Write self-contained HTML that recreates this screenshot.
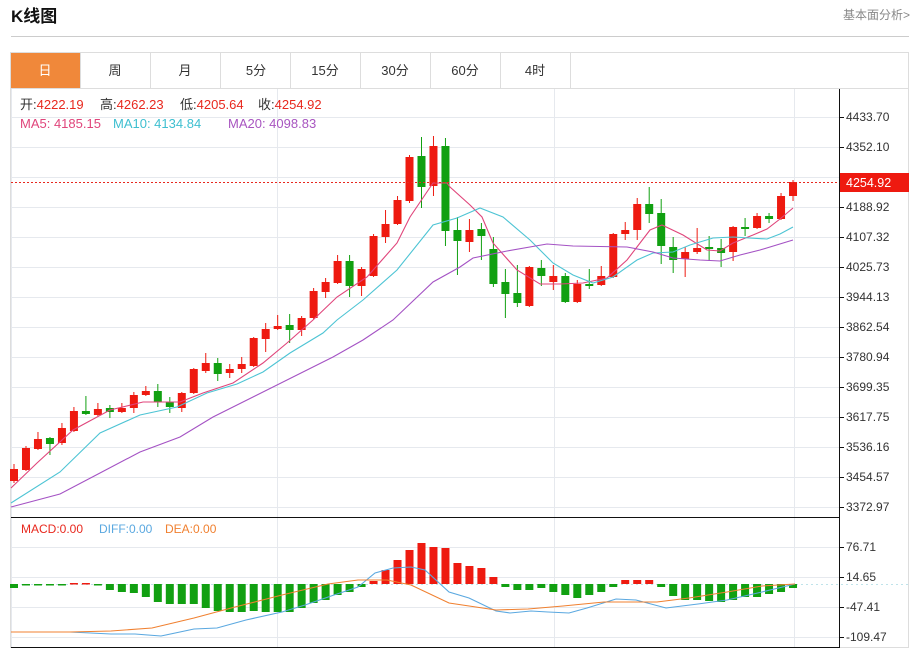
<!DOCTYPE html>
<html><head><meta charset="utf-8"><style>
body{margin:0;background:#fff;width:915px;height:651px;overflow:hidden;font-family:"Liberation Sans","Noto Sans CJK SC",sans-serif}
</style></head><body>
<svg id="s" width="915" height="651" xmlns="http://www.w3.org/2000/svg" style="position:absolute;left:0;top:0;font-family:'Liberation Sans','Noto Sans CJK SC',sans-serif">
<text x="11" y="22" font-size="17" font-weight="bold" fill="#111">K线图</text>
<text x="843" y="19" font-size="12" fill="#888">基本面分析&gt;</text>
<line x1="11" y1="36.5" x2="909" y2="36.5" stroke="#ccc"/>
<rect x="10.5" y="52.5" width="898" height="595" fill="none" stroke="#ddd"/>
<rect x="11" y="53" width="69" height="35" fill="#f0883a"/>
<line x1="11" y1="88.5" x2="909" y2="88.5" stroke="#ddd"/>
<g font-size="13" fill="#333" text-anchor="middle">
<text x="45" y="75" fill="#fff">日</text>
<text x="115" y="75">周</text><text x="185" y="75">月</text><text x="256" y="75">5分</text>
<text x="325" y="75">15分</text><text x="395" y="75">30分</text><text x="465" y="75">60分</text><text x="535" y="75">4时</text>
</g>
<g stroke="#ddd"><line x1="150.5" y1="53" x2="150.5" y2="88"/><line x1="220.5" y1="53" x2="220.5" y2="88"/><line x1="290.5" y1="53" x2="290.5" y2="88"/><line x1="360.5" y1="53" x2="360.5" y2="88"/><line x1="430.5" y1="53" x2="430.5" y2="88"/><line x1="500.5" y1="53" x2="500.5" y2="88"/><line x1="570.5" y1="53" x2="570.5" y2="88"/><line x1="80.5" y1="53" x2="80.5" y2="88"/></g>
<g id="grid" stroke="#e6e9ee"></g>
<g id="main"></g>
<line x1="11" y1="517.5" x2="839" y2="517.5" stroke="#111"/>
<line x1="11" y1="647.5" x2="839" y2="647.5" stroke="#111"/>
<line x1="839.5" y1="89" x2="839.5" y2="648" stroke="#111"/>
<line x1="11" y1="182.5" x2="839" y2="182.5" stroke="#e8281e" stroke-dasharray="2,2"/>
<g font-size="12" fill="#333" id="ax"></g>
<rect x="840" y="173" width="69" height="19" fill="#ee1a10"/>
<text x="846" y="187" font-size="12.5" fill="#fff">4254.92</text>
<g font-size="13">
<text x="20" y="109" fill="#333">开:<tspan fill="#e8281e">4222.19</tspan></text>
<text x="100" y="109" fill="#333">高:<tspan fill="#e8281e">4262.23</tspan></text>
<text x="180" y="109" fill="#333">低:<tspan fill="#e8281e">4205.64</tspan></text>
<text x="258" y="109" fill="#333">收:<tspan fill="#e8281e">4254.92</tspan></text>
<text x="20" y="128" fill="#e0457b">MA5: 4185.15</text>
<text x="113" y="128" fill="#3ebfd0">MA10: 4134.84</text>
<text x="228" y="128" fill="#a855c0">MA20: 4098.83</text>
<text x="21" y="533" font-size="12" fill="#e8281e">MACD:0.00</text>
<text x="99" y="533" font-size="12" fill="#5aa8e0">DIFF:0.00</text>
<text x="165" y="533" font-size="12" fill="#f08030">DEA:0.00</text>
</g>
</svg>
<script>
var NS="http://www.w3.org/2000/svg";
function el(p,t,a){var e=document.createElementNS(NS,t);for(var k in a)e.setAttribute(k,a[k]);document.getElementById(p).appendChild(e);return e;}
[117,147,177,207,237,267,297,327,357,387,417,447,477,507,547,577,607,637].forEach(function(y){el("grid","line",{x1:11,x2:839,y1:y+.5,y2:y+.5});});
[277,554,794].forEach(function(x){el("grid","line",{x1:x+.5,x2:x+.5,y1:89,y2:647});});
el("grid","line",{x1:11.5,x2:11.5,y1:89,y2:647});
el("grid","line",{x1:11,x2:909,y1:584.5,y2:584.5,"stroke":"#bfe3ea","stroke-dasharray":"2,3"});
var labs=[[117,"4433.70"],[147,"4352.10"],[207,"4188.92"],[237,"4107.32"],[267,"4025.73"],[297,"3944.13"],[327,"3862.54"],[357,"3780.94"],[387,"3699.35"],[417,"3617.75"],[447,"3536.16"],[477,"3454.57"],[507,"3372.97"],[547,"76.71"],[577,"14.65"],[607,"-47.41"],[637,"-109.47"]];
labs.forEach(function(l){el("ax","line",{x1:839,x2:844,y1:l[0]+.5,y2:l[0]+.5,stroke:"#111"});var t=el("ax","text",{x:846,y:l[0]+4});t.textContent=l[1];});
var C=[[469,481,464,483,1],[448,470,446,471,1],[439,449,432,450,1],[438,444,437,455,0],[428,443,423,445,1],[411,431,407,432,1],[411,414,396,415,0],[409,415,403,416,1],[408,412,405,418,0],[408,412,403,413,1],[395,408,392,413,1],[391,395,386,396,1],[391,402,384,407,0],[402,407,397,413,0],[393,408,392,412,1],[369,393,368,394,1],[363,371,353,373,1],[363,374,358,381,0],[369,373,364,378,1],[364,369,357,373,1],[338,366,337,367,1],[329,339,323,352,1],[326,329,315,330,1],[325,330,314,343,0],[318,330,316,336,1],[291,318,288,319,1],[282,292,278,298,1],[261,283,255,284,1],[261,286,255,297,0],[269,286,267,296,1],[236,276,234,277,1],[224,237,210,243,1],[200,224,196,225,1],[157,201,155,203,1],[156,187,137,208,0],[146,186,136,196,1],[146,231,138,246,0],[230,241,217,275,0],[230,242,219,252,1],[229,236,223,260,0],[249,284,237,287,0],[282,294,269,318,0],[293,303,265,307,0],[267,306,266,307,1],[268,276,260,286,0],[276,282,265,290,1],[276,302,273,303,0],[284,302,280,303,1],[284,286,269,289,0],[276,285,266,286,1],[234,277,233,278,1],[230,234,222,240,1],[204,230,198,240,1],[204,214,187,223,0],[213,246,199,264,0],[247,260,237,273,0],[252,259,247,277,1],[248,252,228,254,1],[247,249,236,261,0],[248,253,239,267,0],[227,252,226,261,1],[227,229,218,236,0],[216,228,213,229,1],[216,219,213,223,0],[196,219,193,220,1],[182,196,180,201,1]];
function X(i){return 14+i*11.985;}
C.forEach(function(c,i){var x=X(i),col=c[4]?"#ee1a10":"#11a011";
el("main","line",{x1:x,x2:x,y1:c[2],y2:c[3],stroke:col,"stroke-width":1});
el("main","rect",{x:x-4,y:c[0],width:8,height:Math.max(1.5,c[1]-c[0]),fill:col});});
function pl(pts,col){el("main","polyline",{points:pts,fill:"none",stroke:col,"stroke-width":1.1});}
pl("11,488 37,463 73,430 110,410 143,402 180,402 203,393 233,383 263,363 287,343 313,320 337,297 367,277 397,243 410,217 433,183 447,183 450,187 470,205 482,217 493,243 517,270 540,284 560,284 583,283 607,278 627,260 650,230 662,225 683,235 707,250 720,251 733,243 753,235 767,229 780,219 793,208","#e0457b");
pl("11,503 60,472 100,433 140,415 177,407 207,393 237,384 263,372 290,353 323,333 337,320 363,300 397,270 433,225 457,218 480,208 503,217 530,240 553,263 573,275 593,283 613,277 637,260 653,253 673,252 690,245 713,238 733,237 767,239 780,234 793,227","#4dc4d4");
pl("11,507 60,494 100,473 140,452 180,437 213,417 253,397 293,377 333,357 363,340 393,320 433,282 460,267 473,258 507,251 547,244 573,246 627,247 653,252 673,258 700,260 720,261 740,255 760,250 793,240","#a452c4");
var B=[588,585.5,585.5,585.5,585.5,583,583,585.5,590,592,593,597,602,604,604,604,608,611,612,612,611,612,612,612,608,603,600,595,592,587,581,570,560,550,543,547,548,563,566,568,577,587,590,590,588,592,595,598,595,592,587,580,580,580,587,596,600,600,601,602,600,597,597,594,592,588];
B.forEach(function(b,i){var x=X(i),red=b<584;var y=red?b:584,h=Math.max(1.5,Math.abs(b-584));
el("main","rect",{x:x-4,y:y,width:8,height:h,fill:red?"#ee1a10":"#11a011"});});
pl("11,632 70,632 111,634 135,634 161,636 194,629 217,628 246,620 282,612 305,605 334,595 358,587 375,573 393,568 411,567 425,570 449,592 469,598 496,611 510,613 531,611 548,612 569,613 587,608 616,599 636,600 666,608 698,604 727,600 762,592 795,584","#5aa8e0");
pl("11,632 70,632 111,631 152,628 194,618 235,607 282,595 328,584 358,580 387,580 411,585 449,603 496,610 528,609 563,606 604,602 657,602 689,598 727,592 762,586 795,584","#f08030");
</script>
</body></html>
